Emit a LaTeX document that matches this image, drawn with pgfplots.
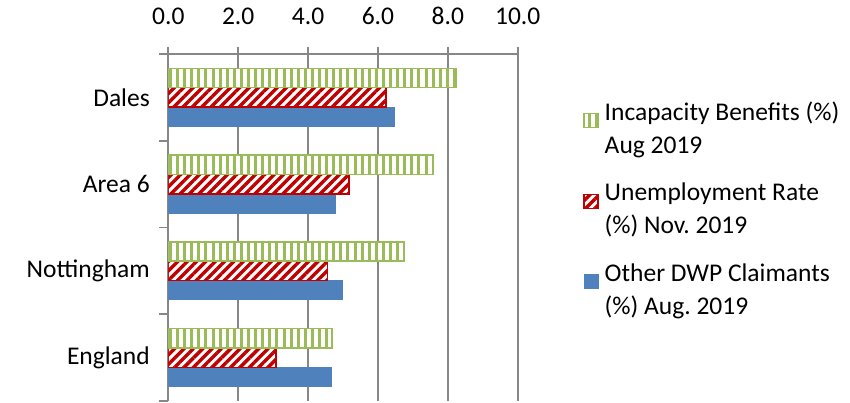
\documentclass[border=0pt]{standalone}
\usepackage{fontspec}
\setmainfont{Carlito}
\usepackage{pgfplots}
\pgfplotsset{compat=1.18}
\usetikzlibrary{patterns.meta}
\definecolor{ibgreen}{HTML}{9BBB59}
\definecolor{urred}{HTML}{C00000}
\definecolor{dwpblue}{HTML}{4F81BD}
\definecolor{axgray}{HTML}{878787}
\pgfplotsset{legsq/.style={legend image code/.code={\draw[##1] (0pt,1pt) rectangle (14pt,15pt);}}}

\begin{document}
\begin{tikzpicture}[font=\fontsize{25.5}{33}\selectfont]
\begin{axis}[
  at={(0,0)}, anchor=south west,
  scale only axis, width=349.4pt, height=347pt,
  xbar=0pt, bar width=19.3pt,
  xmin=0, xmax=10,
  ymin=-0.5, ymax=3.5, y dir=reverse,
  axis x line*=top, axis y line*=left,
  axis line style={axgray, line width=1.8pt, -},
  xtick={0,2,...,10},
  xticklabels={0.0,2.0,4.0,6.0,8.0,10.0},
  ytick={0,1,2,3},
  yticklabels={Dales,Area 6,Nottingham,England},
  minor ytick={-0.5,0.5,1.5,2.5,3.5},
  tick align=outside,
  major tick length=15pt, minor tick length=9pt,
  major x tick style={axgray, line width=1.8pt, yshift=-7.5pt},
  major y tick style={draw=none},
  minor y tick style={axgray, line width=1.8pt},
  xticklabel style={yshift=11pt},
  xmajorgrids,
  major grid style={axgray, line width=1.8pt},
  tick label style={font=\fontsize{25.5}{33}\selectfont},
  reverse legend,
  legend cell align=left,
  legend style={draw=none, fill=none, at={(1.187,0.862)}, anchor=north west,
    inner sep=0pt, row sep=28pt, column sep=6pt,
    nodes={inner sep=0pt, align=left},
    font=\fontsize{25.5}{33}\selectfont},
]
\addplot[draw=dwpblue, fill=dwpblue, line width=0.8pt, legsq]
  coordinates {(6.47,0) (4.77,1) (4.98,2) (4.68,3)};
\addlegendentry{Other DWP Claimants\\(\%) Aug.\ 2019}
\addplot[draw=urred, line width=1.5pt, preaction={fill=white},
  pattern={Lines[angle=45,distance=6.6pt,line width=3.4pt]}, pattern color=urred, legsq]
  coordinates {(6.23,0) (5.17,1) (4.56,2) (3.08,3)};
\addlegendentry{Unemployment Rate\\(\%) Nov.\ 2019}
\addplot[draw=ibgreen, line width=1.5pt, preaction={fill=white},
  pattern={Lines[angle=90,distance=7.1pt,line width=3pt]}, pattern color=ibgreen, legsq]
  coordinates {(8.25,0) (7.57,1) (6.75,2) (4.69,3)};
\addlegendentry{Incapacity Benefits (\%)\\Aug 2019}
\end{axis}
\path (-168.3pt,-1pt) rectangle (681.7pt,401pt);
\end{tikzpicture}
\end{document}
